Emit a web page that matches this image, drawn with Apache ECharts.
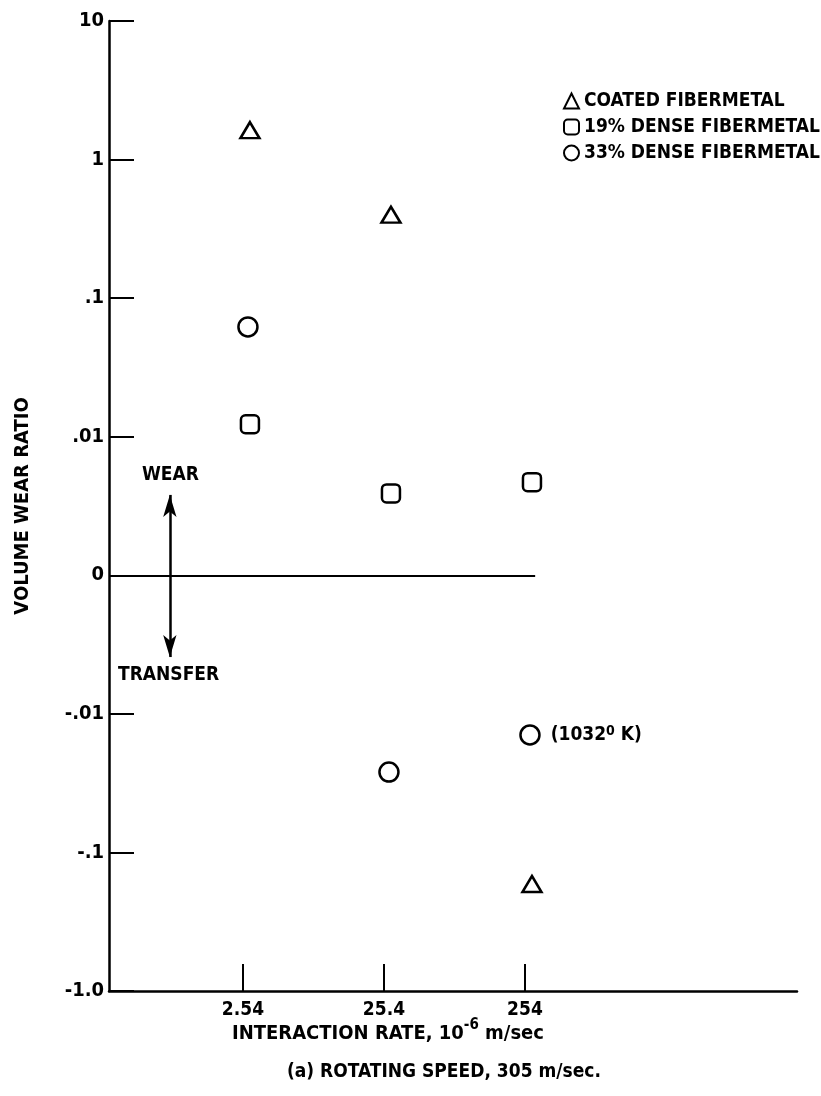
<!DOCTYPE html>
<html>
<head>
<meta charset="utf-8">
<script src="https://cdn.jsdelivr.net/npm/echarts@6/dist/echarts.min.js"></script>
<style>
  html, body { margin: 0; background: #fff; }
  #chart { width: 821px; height: 1096px; }
</style>
</head>
<body>
<div id="chart"></div>
<script>
// interaction rate, 10^-6 m/sec
var rates = [2.54, 25.4, 254];
var rateLabels = ['2.54', '25.4', '254'];
// volume wear ratio per material
var coated = [1.63, 0.40, -0.169];
var dense19 = [0.0123, 0.0039, 0.0047];
var dense33 = [0.062, -0.0263, -0.0142];
var dense33Notes = ['', '', '(1032{sup|0} K)'];
var seriesNames = ['COATED FIBERMETAL', '19% DENSE FIBERMETAL', '33% DENSE FIBERMETAL'];
var ratioTicks = [-1, -0.1, -0.01, 0, 0.01, 0.1, 1, 10];
var ratioLabels = ['-1.0', '-.1', '-.01', '0', '.01', '.1', '1', '10'];

var FONT = '"DejaVu Sans Condensed", "DejaVu Sans", sans-serif';

// wear above zero, transfer below: both halves on log decades
function ratioPos(v) {
  if (v > 0) return Math.log10(v) + 3;
  if (v < 0) return -(Math.log10(-v) + 3);
  return 0;
}
function ratePos(r) { return Math.log10(r); }

var xMin = -0.545, xMax = 4.334;

function makeData(vals, notes) {
  return vals.map(function (v, i) {
    var item = { value: [ratePos(rates[i]), ratioPos(v)] };
    if (notes && notes[i]) {
      item.label = { show: true, formatter: notes[i] };
    }
    return item;
  });
}

var markerStyle = { color: '#fff', borderColor: '#000', borderWidth: 2.5, opacity: 1 };

var chart = echarts.init(document.getElementById('chart'));
chart.setOption({
  animation: false,
  backgroundColor: '#fff',
  textStyle: { fontFamily: FONT, color: '#000', fontWeight: 'bold' },
  grid: { left: 109, right: 24, top: 21, bottom: 105, outerBoundsMode: 'none' },
  legend: {
    orient: 'vertical',
    left: 558,
    top: 86,
    itemWidth: 15,
    itemHeight: 15,
    itemGap: 6,
    textStyle: { fontFamily: FONT, fontSize: 19, fontWeight: 'bold', color: '#000', lineHeight: 20 },
    data: seriesNames
  },
  xAxis: {
    type: 'value',
    min: xMin,
    max: xMax,
    axisLine: { onZero: false, lineStyle: { color: '#000', width: 2.5 } },
    axisTick: {
      inside: true, length: 27,
      customValues: rates.map(ratePos),
      lineStyle: { color: '#000', width: 2 }
    },
    axisLabel: {
      customValues: rates.map(ratePos),
      margin: 10,
      fontSize: 19,
      fontWeight: 'bold',
      color: '#000',
      formatter: function (v) {
        var i = rates.map(ratePos).findIndex(function (p) { return Math.abs(p - v) < 1e-6; });
        return i >= 0 ? rateLabels[i] : '';
      }
    },
    splitLine: { show: false }
  },
  yAxis: {
    type: 'value',
    min: -3,
    max: 4,
    interval: 1,
    name: 'VOLUME WEAR RATIO',
    nameLocation: 'middle',
    nameGap: 76,
    nameRotate: 90,
    nameTextStyle: { fontFamily: FONT, fontSize: 20, fontWeight: 'bold', color: '#000' },
    axisLine: { onZero: false, lineStyle: { color: '#000', width: 2.5 } },
    axisTick: { inside: true, length: 25, lineStyle: { color: '#000', width: 2 } },
    axisLabel: {
      margin: 5,
      fontSize: 20,
      fontWeight: 'bold',
      color: '#000',
      formatter: function (v) {
        var i = ratioTicks.map(ratioPos).findIndex(function (p) { return Math.abs(p - v) < 1e-6; });
        return i >= 0 ? ratioLabels[i] : '';
      }
    },
    splitLine: { show: false }
  },
  series: [
    {
      name: seriesNames[0],
      type: 'scatter',
      symbol: 'triangle',
      symbolSize: [19, 16],
      symbolOffset: [7, 0],
      itemStyle: markerStyle,
      data: makeData(coated),
      markLine: {
        silent: true,
        symbol: 'none',
        label: { show: false },
        lineStyle: { color: '#000', width: 2, type: 'solid', opacity: 1 },
        data: [[{ coord: [xMin, ratioPos(0)] }, { coord: [ratePos(300), ratioPos(0)] }]]
      }
    },
    {
      name: seriesNames[1],
      type: 'scatter',
      symbol: 'roundRect',
      symbolSize: 18,
      symbolOffset: [7, 0],
      itemStyle: markerStyle,
      data: makeData(dense19),
      markLine: {
        silent: true,
        symbol: ['arrow', 'arrow'],
        symbolSize: [10, 22],
        label: { show: false },
        lineStyle: { color: '#000', width: 2.5, type: 'solid', opacity: 1 },
        data: [[{ coord: [ratePos(0.77), 0.58] }, { coord: [ratePos(0.77), -0.59] }]]
      }
    },
    {
      name: seriesNames[2],
      type: 'scatter',
      symbol: 'circle',
      symbolSize: 19,
      symbolOffset: [5, 0],
      itemStyle: markerStyle,
      label: {
        position: 'right',
        distance: 10,
        fontFamily: FONT,
        fontSize: 19,
        fontWeight: 'bold',
        color: '#000',
        rich: {
          sup: { fontFamily: FONT, fontSize: 14, fontWeight: 'bold', color: '#000', verticalAlign: 'top', lineHeight: 22 }
        }
      },
      data: makeData(dense33, dense33Notes)
    }
  ],
  graphic: [
    { type: 'text', left: 142, top: 466, style: { text: 'WEAR', font: 'bold 19px ' + FONT, fill: '#000' } },
    { type: 'text', left: 118, top: 666, style: { text: 'TRANSFER', font: 'bold 19px ' + FONT, fill: '#000' } },
    {
      type: 'text', left: 232, top: 1018,
      style: {
        text: '{t|INTERACTION RATE, 10}{s|-6}{t| m/sec}',
        rich: {
          t: { font: 'bold 20px ' + FONT, fill: '#000', lineHeight: 26, verticalAlign: 'bottom' },
          s: { font: 'bold 15px ' + FONT, fill: '#000', lineHeight: 26, verticalAlign: 'top' }
        }
      }
    },
    { type: 'text', left: 287, top: 1063, style: { text: '(a) ROTATING SPEED, 305 m/sec.', font: 'bold 19px ' + FONT, fill: '#000' } }
  ]
});
</script>
</body>
</html>
